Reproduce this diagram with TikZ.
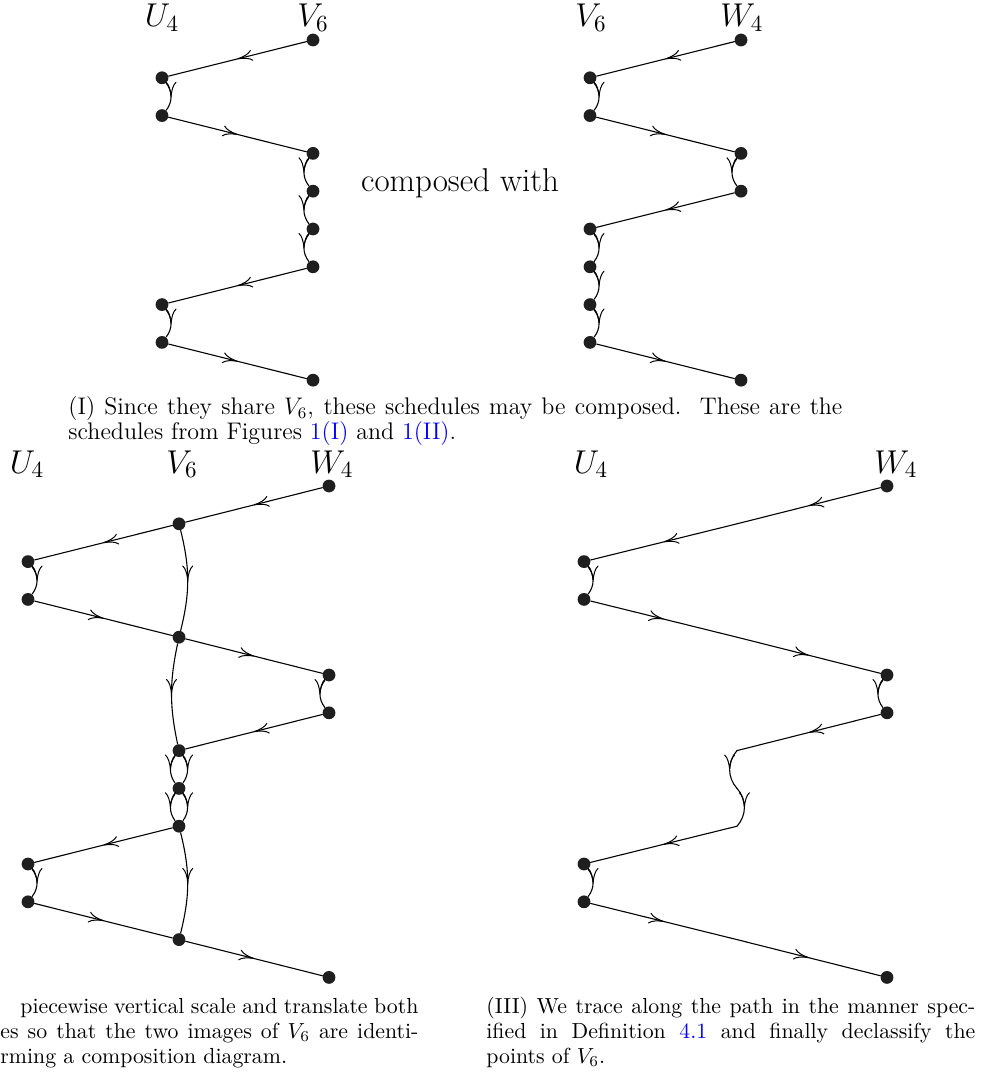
\RequirePackage{fix-cm}
\documentclass[tikz,border=0pt]{standalone}
\usepackage{xcolor}
\usetikzlibrary{arrows.meta,decorations.markings}
\tikzset{
  dot/.style={circle,fill=black!88,inner sep=0pt,minimum size=6.4pt},
  edge/.style={line width=0.55pt, line cap=round, postaction={decorate},
    decoration={markings, mark=at position 0.5 with {\arrow{Computer Modern Rightarrow[length=7.5pt,width=5.5pt,line width=0.5pt]}}}},
  lbl/.style={anchor=base, inner sep=0pt, font=\fontsize{16.5}{20}\selectfont},
  capA/.style={anchor=base west, inner sep=0pt, font=\fontsize{12}{12.5}\selectfont},
  capB/.style={anchor=base west, inner sep=0pt, font=\fontsize{10.9}{12.25}\selectfont},
}
\begin{document}
\begin{tikzpicture}[x=0.5pt,y=-0.5pt]
\useasboundingbox (0,0) rectangle (985,1074);

% ---------- (I) left schedule
\node[lbl] (lU1) at (162,27) {$U_4$};
\node[lbl] (lV1) at (313,27) {$V_6$};
\node[dot] (a0) at (313,40) {};
\node[dot] (a1) at (162,77.8) {};
\node[dot] (a2) at (162,115.6) {};
\node[dot] (a3) at (313,153.4) {};
\node[dot] (a4) at (313,191.2) {};
\node[dot] (a5) at (313,229) {};
\node[dot] (a6) at (313,266.8) {};
\node[dot] (a7) at (162,304.6) {};
\node[dot] (a8) at (162,342.4) {};
\node[dot] (a9) at (313,380.2) {};
\draw[edge] (a0) -- (a1);
\draw[edge] (a1) to[bend left=38] (a2);
\draw[edge] (a2) -- (a3);
\draw[edge] (a3) to[bend right=38] (a4);
\draw[edge] (a4) to[bend right=38] (a5);
\draw[edge] (a5) to[bend right=38] (a6);
\draw[edge] (a6) -- (a7);
\draw[edge] (a7) to[bend left=38] (a8);
\draw[edge] (a8) -- (a9);

\node[lbl] (cw) at (460,192) {composed with};

% ---------- (I) right schedule
\node[lbl] (lV2) at (591,27) {$V_6$};
\node[lbl] (lW2) at (742,27) {$W_4$};
\node[dot] (b0) at (741,40) {};
\node[dot] (b1) at (590,77.8) {};
\node[dot] (b2) at (590,115.6) {};
\node[dot] (b3) at (741,153.4) {};
\node[dot] (b4) at (741,191.2) {};
\node[dot] (b5) at (590,229) {};
\node[dot] (b6) at (590,266.8) {};
\node[dot] (b7) at (590,304.6) {};
\node[dot] (b8) at (590,342.4) {};
\node[dot] (b9) at (741,380.2) {};
\draw[edge] (b0) -- (b1);
\draw[edge] (b1) to[bend left=38] (b2);
\draw[edge] (b2) -- (b3);
\draw[edge] (b3) to[bend right=38] (b4);
\draw[edge] (b4) -- (b5);
\draw[edge] (b5) to[bend left=38] (b6);
\draw[edge] (b6) to[bend left=38] (b7);
\draw[edge] (b7) to[bend left=38] (b8);
\draw[edge] (b8) -- (b9);

% caption (I)
\node[capA] (capI1) at (68,415) {\makebox[387pt][s]{(I) Since they share $V_6$, these schedules may be composed.\ \ These are the}};
\node[capA] (capI2) at (68,439) {schedules from Figures \textcolor{blue}{1(I)} and \textcolor{blue}{1(II)}.};

% ---------- (II) composition diagram
\node[lbl] (lU3) at (27,473) {$U_4$};
\node[lbl] (lV3) at (182,473) {$V_6$};
\node[lbl] (lW3) at (332,473) {$W_4$};
\node[dot] (c0) at (329,486) {};
\node[dot] (c1) at (179,523.8) {};
\node[dot] (c2) at (28,561.6) {};
\node[dot] (c3) at (28,599.4) {};
\node[dot] (c4) at (179,637.2) {};
\node[dot] (c5) at (329,675) {};
\node[dot] (c6) at (329,712.8) {};
\node[dot] (c7) at (179,750.6) {};
\node[dot] (c8) at (179,788.4) {};
\node[dot] (c9) at (179,826.2) {};
\node[dot] (c10) at (28,864) {};
\node[dot] (c11) at (28,901.8) {};
\node[dot] (c12) at (179,939.6) {};
\node[dot] (c13) at (329,977.4) {};
\draw[edge] (c0) -- (c1);
\draw[edge] (c1) -- (c2);
\draw[edge] (c2) to[bend left=38] (c3);
\draw[edge] (c3) -- (c4);
\draw[edge] (c4) -- (c5);
\draw[edge] (c5) to[bend right=38] (c6);
\draw[edge] (c6) -- (c7);
\draw[edge] (c1) to[bend left=14] (c4);
\draw[edge] (c4) to[bend right=12] (c7);
\draw[edge] (c7) to[bend left=36] (c8);
\draw[edge] (c7) to[bend right=36] (c8);
\draw[edge] (c8) to[bend left=36] (c9);
\draw[edge] (c8) to[bend right=36] (c9);
\draw[edge] (c9) -- (c10);
\draw[edge] (c10) to[bend left=38] (c11);
\draw[edge] (c11) -- (c12);
\draw[edge] (c9) to[bend left=14] (c12);
\draw[edge] (c12) -- (c13);

% caption (II) visible part
\node[capB] (capII1) at (20,1013) {\makebox[199pt][s]{piecewise vertical scale and translate both}};
\node[capB] (capII2) at (0,1038) {\makebox[209pt][s]{es so that the two images of $V_6$ are identi-}};
\node[capB] (capII3) at (0,1063) {rming a composition diagram.};

% ---------- (III) traced diagram
\node[lbl] (lU4) at (591,473) {$U_4$};
\node[lbl] (lW4) at (896,473) {$W_4$};
\node[dot] (d0) at (887,486) {};
\coordinate (m1) at (737,523.8);
\node[dot] (d2) at (584,561.6) {};
\node[dot] (d3) at (584,599.4) {};
\coordinate (m4) at (737,637.2);
\node[dot] (d5) at (887,675) {};
\node[dot] (d6) at (887,712.8) {};
\coordinate (m7) at (737,750.6);
\coordinate (m8) at (737,788.4);
\coordinate (m9) at (737,826.2);
\node[dot] (d10) at (584,864) {};
\node[dot] (d11) at (584,901.8) {};
\coordinate (m12) at (737,939.6);
\node[dot] (d13) at (887,977.4) {};
\draw[edge] (d0) -- (m1);
\draw[edge] (m1) -- (d2);
\draw[edge] (d2) to[bend left=38] (d3);
\draw[edge] (d3) -- (m4);
\draw[edge] (m4) -- (d5);
\draw[edge] (d5) to[bend right=38] (d6);
\draw[edge] (d6) -- (m7);
\draw[edge] (m7) to[bend right=42] (m8);
\draw[edge] (m8) to[bend left=42] (m9);
\draw[edge] (m9) -- (d10);
\draw[edge] (d10) to[bend left=38] (d11);
\draw[edge] (d11) -- (m12);
\draw[edge] (m12) -- (d13);

% caption (III)
\node[capB] (capIII1) at (486,1013) {\makebox[244.5pt][s]{(III) We trace along the path in the manner spec-}};
\node[capB] (capIII2) at (486,1038) {\makebox[244.5pt][s]{ified in Definition \textcolor{blue}{4.1} and finally declassify the}};
\node[capB] (capIII3) at (486,1063) {points of $V_6$.};
\end{tikzpicture}
\end{document}
